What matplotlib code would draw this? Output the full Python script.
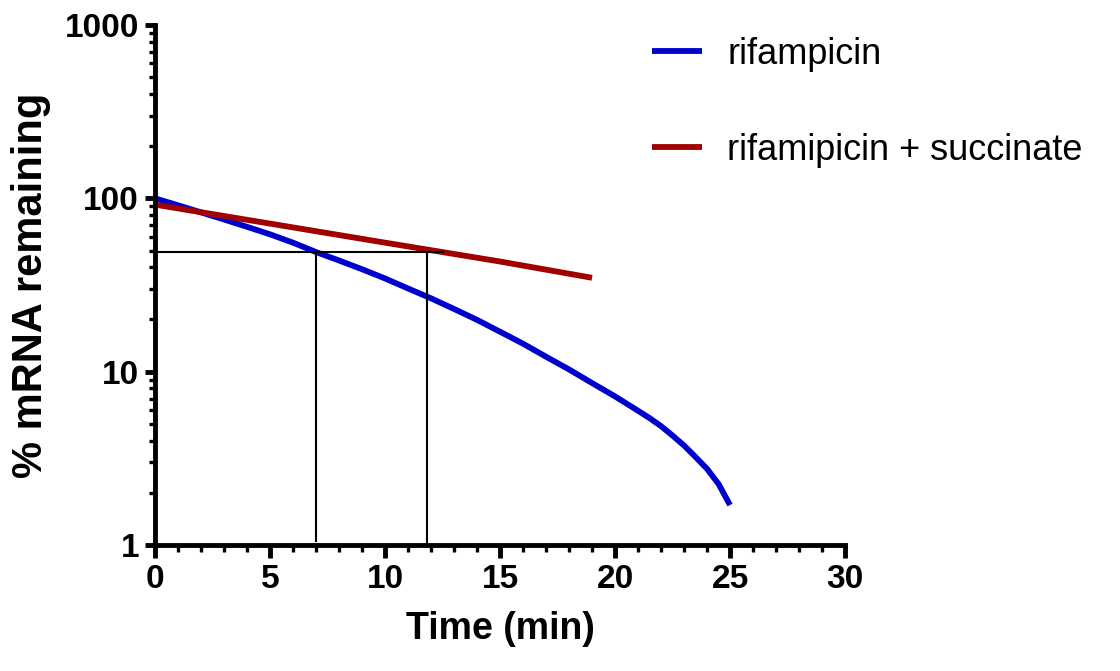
"""
PLOT
- mRNA decay after rifampicin, with and without succinate
- Saves the plot as out.png
"""

import matplotlib
matplotlib.use("Agg")
import matplotlib.pyplot as plt
from matplotlib.ticker import FixedLocator, LogLocator, NullFormatter, MultipleLocator

plt.rcParams["font.family"] = ["Liberation Sans", "DejaVu Sans"]

# values
rif_time = [0, 1, 2, 3, 4, 5, 6, 7, 8, 9, 10, 11, 12, 13, 14, 15, 16, 17, 18,
            19, 20, 21, 21.5, 22, 22.5, 23, 23.5, 24, 24.5, 25]
rif_pct = [100, 91.2, 83, 75.5, 68.5, 62, 55.5, 49, 43.8, 39, 34.5, 30.2, 26.5,
           23, 19.9, 17, 14.5, 12.2, 10.3, 8.6, 7.2, 5.95, 5.4, 4.85, 4.28, 3.75,
           3.22, 2.75, 2.25, 1.7]
succ_time = [0, 5, 10, 15, 19]
succ_pct = [92, 71.5, 55.5, 43.2, 34.8]

half_level = 49
half_lives = [7.0, 11.83]
guide_end = 12.5

fig = plt.figure(figsize=(11.2, 6.71), dpi=100)
ax = fig.add_axes([0.1384, 0.1878, 0.6161, 0.7749])

ax.plot(rif_time, rif_pct, color="#0000cc", lw=4.2, label="rifampicin",
        solid_capstyle="butt", solid_joinstyle="round")
ax.plot(succ_time, succ_pct, color="#a00000", lw=4.2,
        label="rifamipicin + succinate", solid_capstyle="butt")

# half-life guide lines
ax.plot([0, guide_end], [half_level, half_level], color="black", lw=1.5)
ax.plot([half_lives[0]] * 2, [1.05, half_level], color="black", lw=1.5)
ax.plot([half_lives[1]] * 2, [1.0, half_level], color="black", lw=1.5)

ax.set_yscale("log")
ax.set_ylim(1, 1000)
ax.set_xlim(0, 30)
ax.yaxis.set_major_locator(FixedLocator([1, 10, 100, 1000]))
ax.set_yticklabels(["1", "10", "100", "1000"])
ax.yaxis.set_minor_locator(LogLocator(base=10, subs=range(2, 10)))
ax.yaxis.set_minor_formatter(NullFormatter())
ax.xaxis.set_major_locator(MultipleLocator(5))
ax.xaxis.set_minor_locator(MultipleLocator(1))

for s in ["top", "right"]:
    ax.spines[s].set_visible(False)
for s in ["left", "bottom"]:
    ax.spines[s].set_linewidth(3.5)

ax.tick_params(which="major", width=3.5, labelsize=24)
ax.tick_params(which="minor", width=2.4)
ax.tick_params(axis="x", which="major", length=9.5, pad=4)
ax.tick_params(axis="x", which="minor", length=5)
ax.tick_params(axis="y", which="major", length=7.5, pad=4)
ax.tick_params(axis="y", which="minor", length=4)
for lab in ax.get_xticklabels() + ax.get_yticklabels():
    lab.set_fontweight("bold")

ax.set_xlabel("Time (min)", fontsize=27, fontweight="bold", labelpad=12)
ax.set_ylabel("% mRNA remaining", fontsize=30, fontweight="bold", labelpad=10)

ax.legend(loc="upper left", bbox_to_anchor=(0.553, 0.994), bbox_transform=fig.transFigure,
          frameon=False, fontsize=26, handlelength=1.39, handletextpad=0.7,
          labelspacing=1.69)

fig.savefig("out.png", dpi=100)
